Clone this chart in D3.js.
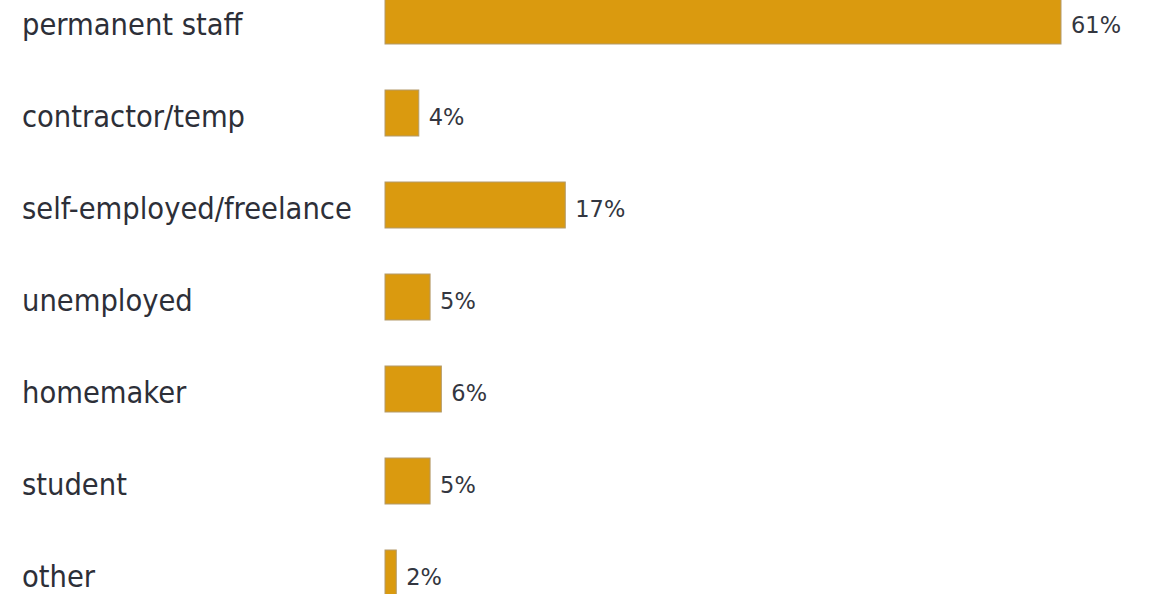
<!DOCTYPE html>
<html>
<head>
<meta charset="utf-8">
<script src="https://cdn.jsdelivr.net/npm/d3@7"></script>
<style>
  html, body { margin: 0; padding: 0; background: #ffffff; }
  svg { display: block; }
</style>
</head>
<body>
<svg id="chart" width="1153" height="594"></svg>
<script>
// Employment status of respondents (share, %)
const categories = [
  "permanent staff",
  "contractor/temp",
  "self-employed/freelance",
  "unemployed",
  "homemaker",
  "student",
  "other"
];
const shares = [61, 4, 17, 5, 6, 5, 2];
const valueLabels = ["61%", "4%", "17%", "5%", "6%", "5%", "2%"];

const svg = d3.select("#chart");

const x = d3.scaleLinear().domain([1, 61]).range([385, 1061]);
const y = d3.scaleBand()
  .domain(categories)
  .range([-25, 619])
  .paddingInner(0.5)
  .paddingOuter(0.25);

const rows = categories.map((c, i) => ({ cat: c, v: shares[i], label: valueLabels[i] }));
const mid = d => y(d.cat) + y.bandwidth() / 2;

// category names on the left
svg.append("g")
  .selectAll("text")
  .data(rows)
  .join("text")
  .attr("x", 22)
  .attr("y", d => mid(d) + 14)
  .attr("font-family", "'DejaVu Sans Condensed', 'DejaVu Sans', sans-serif")
  .attr("font-size", 30.5)
  .attr("fill", "#2d2f38")
  .text(d => d.cat);

// bars
svg.append("g")
  .selectAll("rect")
  .data(rows)
  .join("rect")
  .attr("x", x(1))
  .attr("y", d => y(d.cat))
  .attr("width", d => x(d.v) - x(1))
  .attr("height", y.bandwidth())
  .attr("fill", "#da9a0f")
  .attr("stroke", "#b39a6a")
  .attr("stroke-width", 1);

// value labels
svg.append("g")
  .selectAll("text")
  .data(rows)
  .join("text")
  .attr("x", d => x(d.v) + 10)
  .attr("y", d => mid(d) + 11.5)
  .attr("font-family", "'DejaVu Sans', sans-serif")
  .attr("font-size", 22.5)
  .attr("fill", "#333640")
  .text(d => d.label);
</script>
</body>
</html>
